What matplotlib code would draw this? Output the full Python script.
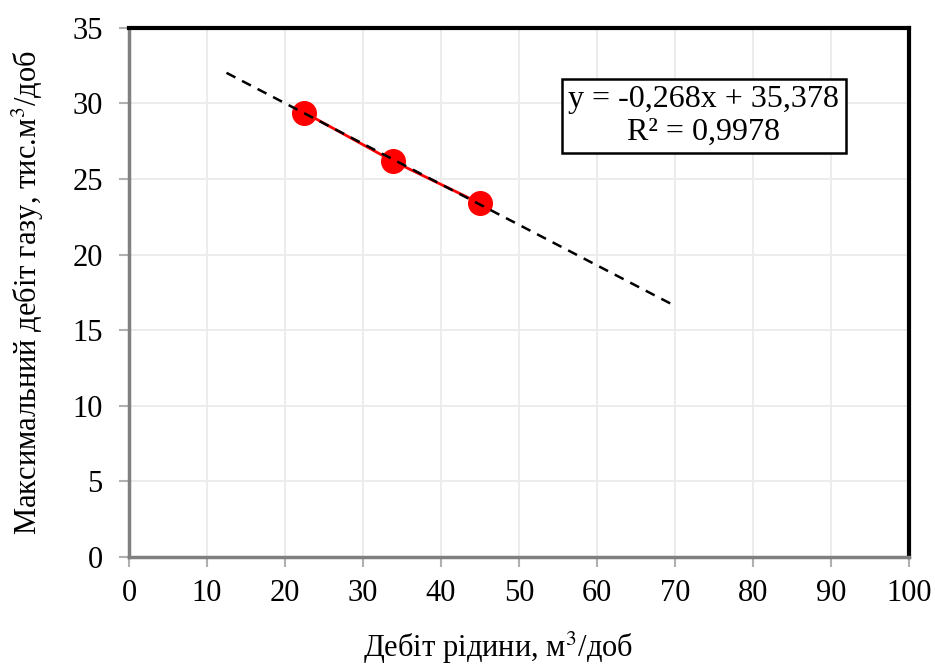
import numpy as np
import matplotlib.pyplot as plt

plt.rcParams['font.family'] = ['Liberation Serif', 'DejaVu Serif']
plt.rcParams['mathtext.fontset'] = 'stix'

# дані з графіка
liquid_rate = [22.5, 33.8, 45.0]      # м3/доб
gas_rate = [29.4, 26.2, 23.4]         # тис.м3/доб
slope, intercept = -0.268, 35.378
trend_x = [12.5, 70.0]
x_ticks = [0, 10, 20, 30, 40, 50, 60, 70, 80, 90, 100]
y_ticks = [0, 5, 10, 15, 20, 25, 30, 35]

fig = plt.figure(figsize=(9.35, 6.64), dpi=100)
ax = fig.add_axes([0.138, 0.161, 0.834, 0.797])

ax.grid(True, color='#ebebeb', linewidth=1.3)
ax.set_axisbelow(True)

ax.plot(liquid_rate, gas_rate, color='red', linewidth=2, zorder=3)
ax.plot(liquid_rate, gas_rate, 'o', color='red', markersize=17, zorder=4)
tx = np.array(trend_x)
ax.plot(tx, slope * tx + intercept, '--', color='black', linewidth=1.8,
        dashes=(4, 3), zorder=5)

ax.text(0.737, 0.834, "y = -0,268x + 35,378\nR² = 0,9978", transform=ax.transAxes,
        ha='center', va='center', fontsize=23, linespacing=1.15,
        bbox=dict(boxstyle='square,pad=0.2', facecolor='white',
                  edgecolor='black', linewidth=1.8))

ax.set_xlim(0, 100)
ax.set_ylim(0, 35)
ax.set_xticks(x_ticks)
ax.set_yticks(y_ticks)
ax.tick_params(labelsize=22, direction='out', length=7, width=1.5,
               color='#b0b0b0')
ax.tick_params(axis='x', pad=9)
ax.tick_params(axis='y', pad=12)

for side in ['top', 'right']:
    ax.spines[side].set_color('black')
    ax.spines[side].set_linewidth(3)
for side in ['left', 'bottom']:
    ax.spines[side].set_color('#808080')
    ax.spines[side].set_linewidth(2.5)

ax.set_xlabel('Дебіт рідини, м$^3$/доб', fontsize=22)
ax.set_ylabel('Максимальний дебіт газу, тис.м$^3$/доб', fontsize=22)
ax.xaxis.set_label_coords(0.473, -0.137)
ax.yaxis.set_label_coords(-0.106, 0.5)

plt.savefig('out.png', dpi=100)
plt.close()
